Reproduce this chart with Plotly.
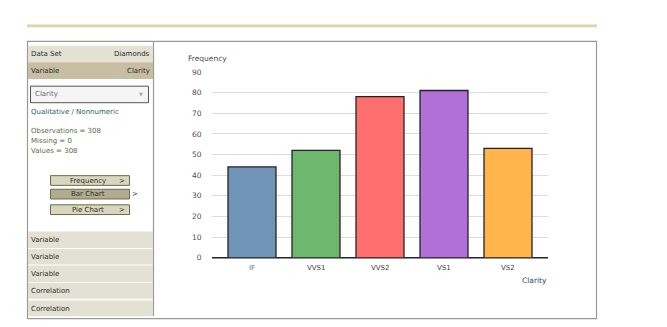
import plotly.graph_objects as go

W, H = 667, 327

# Frequency table for the Clarity variable
clarity = ["IF", "VVS1", "VVS2", "VS1", "VS2"]
frequency = [44, 52, 78, 81, 53]
bar_colors = ["#7093b8", "#6db86d", "#ff6f6f", "#b36fd8", "#ffb54b"]
tick_colors = ["#3f78b0", "#3a4450", "#3a4450", "#3a4450", "#3a4450"]
y_ticks = [0, 10, 20, 30, 40, 50, 60, 70, 80, 90]

FONT = "DejaVu Sans"
SIDE = 7  # sidebar font size


def px(x):
    return x / W


def py(y):
    return 1 - y / H


shapes = []
annotations = []


def rect(x0, y0, x1, y1, fill=None, line=None, lw=1, layer="below"):
    shapes.append(dict(type="rect", xref="paper", yref="paper",
                       x0=px(x0), x1=px(x1), y0=py(y1), y1=py(y0),
                       fillcolor=fill or "rgba(0,0,0,0)",
                       line=dict(color=line or "rgba(0,0,0,0)", width=lw if line else 0),
                       layer=layer))


def hline(x0, x1, y, color, lw=1):
    shapes.append(dict(type="line", xref="paper", yref="paper",
                       x0=px(x0), x1=px(x1), y0=py(y), y1=py(y),
                       line=dict(color=color, width=lw), layer="below"))


def vline(x, y0, y1, color, lw=1):
    shapes.append(dict(type="line", xref="paper", yref="paper",
                       x0=px(x), x1=px(x), y0=py(y0), y1=py(y1),
                       line=dict(color=color, width=lw), layer="below"))


def text(x, y, s, color="#333", size=SIDE, anchor="left"):
    annotations.append(dict(xref="paper", yref="paper", x=px(x), y=py(y),
                            text=s, showarrow=False, borderpad=0,
                            xanchor=anchor, yanchor="middle",
                            font=dict(family=FONT, size=size, color=color)))


# Header rule and outer frame
rect(27, 21, 597, 24, fill="#dcd3a8")
rect(27.5, 38.5, 596.5, 323.5, line="#9a9a9a", lw=1.2)

# Sidebar
vline(153.5, 39, 321, "#9a9a9a", 1.2)
rect(28, 43, 153, 60, fill="#e3e0d4")
text(30, 51.5, "Data Set", "#2e2e22")
text(151, 51.5, "Diamonds", "#2e2e22", anchor="right")
rect(28, 60, 153, 77, fill="#c7bea3")
text(30, 68.5, "Variable", "#2a2a1e")
text(151, 68.5, "Clarity", "#2a2a1e", anchor="right")

# Dropdown selector
rect(30.5, 84.5, 148.5, 101.5, fill="#f5f5f5", line="#555555", lw=1)
text(34, 93, "Clarity", "#6a6a6a")
text(141, 93, "▼", "#a8a8a8", 5, anchor="center")

text(30, 111, "Qualitative / Nonnumeric", "#2e5c62")
text(30, 131, "Observations = 308", "#66663f")
text(30, 141, "Missing = 0", "#66663f")
text(30, 151, "Values = 308", "#66663f")

# Action buttons
buttons = [("Frequency", 176, "#d9d6c0", True),
           ("Bar Chart", 190, "#b0ac92", False),
           ("Pie Chart", 206, "#d9d6c0", True)]
for label, top, fill, arrow_inside in buttons:
    rect(50.5, top + 0.5, 129.5, top + 10.5, fill=fill, line="#6e6a4c", lw=1)
    text(88, top + 5.5, label, "#2e2e20", anchor="center")
    if arrow_inside:
        text(122, top + 5.5, ">", "#2e2e20", anchor="center")
    else:
        text(135, top + 5.5, ">", "#2e2e20", anchor="center")

# Collapsed sidebar sections
sections = [("Variable", 234, 251), ("Variable", 252, 268), ("Variable", 269, 286),
            ("Correlation", 287, 303), ("Correlation", 305, 321)]
for label, y0, y1 in sections:
    rect(28, y0, 153, y1, fill="#e3e0d4")
    text(30, (y0 + y1) / 2 + 0.5, label, "#2e2e22")

# Plot area geometry (pixels)
PX0, PX1 = 212, 548
PY0, PY1 = 69, 261

# Zero baseline
hline(PX0, PX1, PY1, "#222222", 1.5)

# Axis labels
text(187, 56, "Frequency", "#4a5060", 7.5)
text(548, 284, "Clarity", "#2a4a6e", 7.5, anchor="right")

fig = go.Figure()
fig.add_trace(go.Bar(
    x=clarity, y=frequency, width=0.75,
    marker=dict(color=bar_colors, line=dict(color="#222222", width=1.3)),
    hoverinfo="x+y",
))

# Category tick labels drawn per-category so each can take its own colour
for cat, col in zip(clarity, tick_colors):
    annotations.append(dict(xref="x", yref="paper", x=cat, y=py(271.5),
                            text=cat, showarrow=False, xanchor="center",
                            yanchor="middle",
                            font=dict(family=FONT, size=7, color=col)))

fig.update_layout(
    width=W, height=H,
    margin=dict(l=0, r=0, t=0, b=0),
    paper_bgcolor="white", plot_bgcolor="white",
    showlegend=False,
    bargap=0.25,
    shapes=shapes,
    annotations=annotations,
    xaxis=dict(domain=[px(PX0), px(PX1)], range=[-0.625, 4.625],
               showticklabels=False, showgrid=False, zeroline=False,
               showline=False, fixedrange=True),
    yaxis=dict(domain=[py(PY1), py(PY0)], range=[0, 90.4],
               tickvals=y_ticks, showgrid=True, gridcolor="#dcdcdc",
               gridwidth=1, zeroline=False, showline=False,
               tickfont=dict(family=FONT, size=7.5, color="#5a4a44"),
               ticks="outside", ticklen=8, tickcolor="rgba(0,0,0,0)",
               fixedrange=True),
)

fig.write_html("out.html")
